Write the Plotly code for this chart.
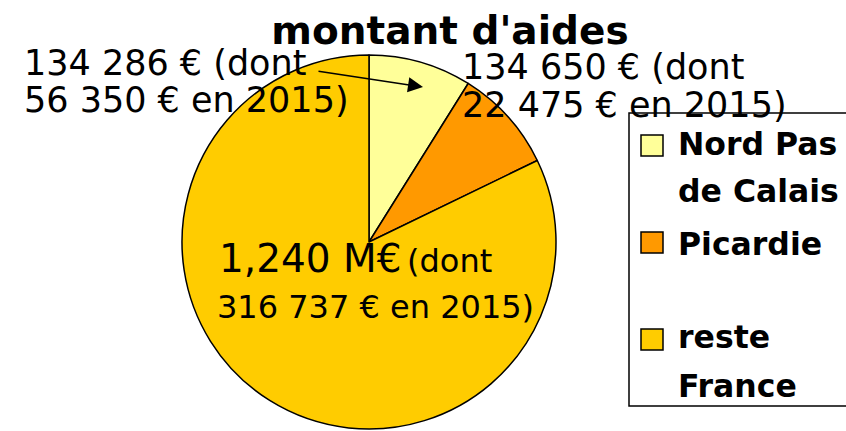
import plotly.graph_objects as go

W, H = 846, 431

regions = ['Nord Pas de Calais', 'Picardie', 'reste France']
totals = [134286, 134650, 1240000]
en_2015 = [56350, 22475, 316737]
colors = ['#FFFF99', '#FF9900', '#FFCC00']


def px_x(x):
    return x / W


def px_y(y):
    return 1 - y / H


def euros(v):
    return f"{v:,}".replace(",", " ") + " €"


fig = go.Figure(go.Pie(
    labels=regions, values=totals, sort=False, direction='clockwise', rotation=0,
    marker=dict(colors=colors, line=dict(color='black', width=1.5)),
    textinfo='none', hoverinfo='label+value', showlegend=False,
    domain=dict(x=[px_x(369 - 187), px_x(369 + 187)], y=[px_y(429), px_y(55)]),
))

# data labels, one annotation per line (baseline in pixels)
lines = [
    (euros(totals[0]) + " (dont", 22, 76, 35),
    (euros(en_2015[0]) + " en 2015)", 22, 113, 35),
    (euros(totals[1]) + " (dont", 460, 80, 35),
    (euros(en_2015[1]) + " en 2015)", 460, 118, 35),
    (f"{totals[2] / 1e6:.3f}".replace(".", ",") + " M€", 217, 273, 39),
    ("(dont", 405, 273, 32),
    (euros(en_2015[2]) + " en 2015)", 215, 319, 32),
]

annotations = []
for txt, x, base, size in lines:
    annotations.append(dict(
        text=txt, x=px_x(x), y=px_y(base - 0.36 * size), xref='paper', yref='paper',
        xanchor='left', yanchor='middle', showarrow=False,
        font=dict(family='DejaVu Sans', size=size, color='black')))

# arrow pointing into the Nord Pas de Calais slice
annotations.append(dict(
    text='', x=px_x(423), y=px_y(87), xref='paper', yref='paper',
    ax=317 - 423, ay=71 - 87, showarrow=True,
    arrowhead=2, arrowsize=2, arrowwidth=1.5, arrowcolor='black'))

# legend drawn by hand, its right side runs off the page
legend_lines = [
    ('Nord Pas', 155), ('de Calais', 202), ('Picardie', 255),
    ('reste', 348), ('France', 397),
]
for txt, base in legend_lines:
    annotations.append(dict(
        text=txt, x=px_x(676), y=px_y(base - 0.36 * 31.5), xref='paper', yref='paper',
        xanchor='left', yanchor='middle', showarrow=False,
        font=dict(family='DejaVu Sans', size=31.5, color='black', weight='bold')))

shapes = [dict(type='rect', xref='paper', yref='paper',
               x0=px_x(629), x1=px_x(900), y0=px_y(406), y1=px_y(113),
               line=dict(color='black', width=1.5), fillcolor='rgba(0,0,0,0)')]
for top, col in zip([135, 232, 329], colors):
    shapes.append(dict(type='rect', xref='paper', yref='paper',
                       x0=px_x(641), x1=px_x(663), y0=px_y(top + 21), y1=px_y(top),
                       line=dict(color='black', width=1.5), fillcolor=col))

fig.update_layout(
    width=W, height=H, margin=dict(l=0, r=0, t=0, b=0),
    paper_bgcolor='white', plot_bgcolor='white',
    title=dict(text="<b>montant d'aides</b>", x=px_x(450), xanchor='center',
               y=px_y(30), yanchor='middle', yref='container',
               font=dict(family='DejaVu Sans', size=39, color='black')),
    annotations=annotations, shapes=shapes,
)

# no page margin, so the figure fills the window exactly
fig.write_html("out.html", config={'displayModeBar': False},
               post_script="document.body.style.margin='0';"
                           "document.body.style.overflow='hidden';")
